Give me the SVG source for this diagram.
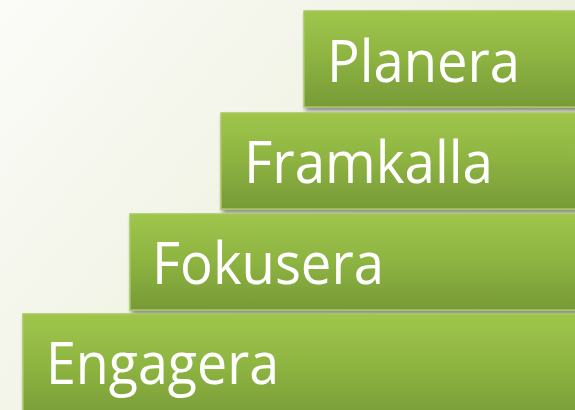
<svg xmlns="http://www.w3.org/2000/svg" width="575" height="410" viewBox="0 0 575 410">
<defs>
<linearGradient id="bg" x1="0" y1="0" x2="1" y2="0.6">
<stop offset="0" stop-color="#fbfcf8"/>
<stop offset="1" stop-color="#e8ecd6"/>
</linearGradient>
<linearGradient id="bar" x1="0" y1="0" x2="0" y2="1">
<stop offset="0" stop-color="#9fc64b"/>
<stop offset="0.45" stop-color="#8fb542"/>
<stop offset="1" stop-color="#779a37"/>
</linearGradient>
<filter id="sh" x="-5%" y="-10%" width="115%" height="130%">
<feGaussianBlur in="SourceAlpha" stdDeviation="2"/>
<feOffset dx="2" dy="3" result="b"/>
<feComponentTransfer><feFuncA type="linear" slope="0.45"/></feComponentTransfer>
<feMerge><feMergeNode/><feMergeNode in="SourceGraphic"/></feMerge>
</filter>
</defs>
<style>
.b{fill:url(#bar);stroke:#a6c75f;stroke-width:1.5;filter:url(#sh)}
.t{fill:#ffffff;font-family:"Open Sans","Noto Sans",sans-serif;font-size:58px}
</style>
<rect width="575" height="410" fill="url(#bg)"/>
<g id="planera">
<rect class="b" x="304" y="11" width="280" height="96"/>
<text class="t" x="327" y="82" textLength="193" lengthAdjust="spacingAndGlyphs">Planera</text>
</g>
<g id="framkalla">
<rect class="b" x="221" y="113" width="370" height="96"/>
<text class="t" x="244" y="183" textLength="249" lengthAdjust="spacingAndGlyphs">Framkalla</text>
</g>
<g id="fokusera">
<rect class="b" x="130" y="214" width="460" height="96"/>
<text class="t" x="152" y="284" textLength="232" lengthAdjust="spacingAndGlyphs">Fokusera</text>
</g>
<g id="engagera">
<rect class="b" x="23" y="314" width="570" height="110"/>
<text class="t" x="46" y="384" textLength="233" lengthAdjust="spacingAndGlyphs">Engagera</text>
</g>
</svg>
